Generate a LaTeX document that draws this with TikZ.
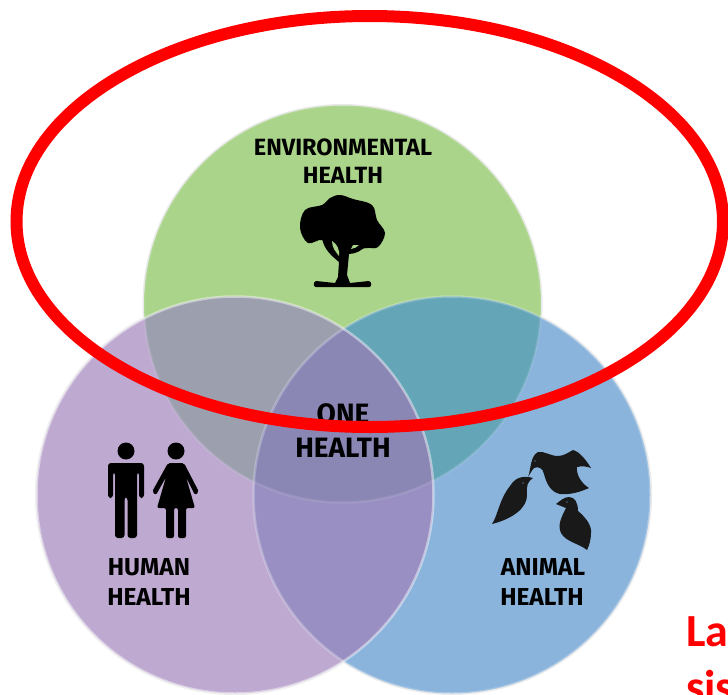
\documentclass[tikz,border=0pt]{standalone}
\usepackage{fontspec}
\setsansfont{Fira Sans}
\newfontfamily\redfont{Carlito}
\definecolor{envgreen}{HTML}{AAD48A}
\definecolor{humanpurple}{HTML}{BEA9D0}
\definecolor{animalblue}{HTML}{8AB4DC}
\definecolor{envhuman}{HTML}{9B9FAE}
\definecolor{envanimal}{HTML}{64A5B8}
\definecolor{humananimal}{HTML}{9A8FC2}
\definecolor{centermix}{HTML}{8A87B5}
\tikzset{
    toplabel/.style={font=\sffamily\bfseries\fontsize{23.5}{26}\selectfont, text=black, inner sep=0pt},
    lowlabel/.style={font=\sffamily\bfseries\fontsize{24.5}{27}\selectfont, text=black, inner sep=0pt},
    onelabel/.style={font=\sffamily\bfseries\fontsize{28}{30}\selectfont, text=black, inner sep=0pt},
    redlabel/.style={font=\redfont\bfseries\fontsize{46}{50}\selectfont, text=red, inner sep=0pt, anchor=base west},
    rim/.style={draw=white, draw opacity=0.45, line width=2.5pt},
}
\begin{document}
\begin{tikzpicture}[x=1pt, y=-1pt]
    \clip (0,0) rectangle (728,694);
    \fill[white] (0,0) rectangle (728,694);
    \def\rad{198.5}
    \def\envcircle{(342.5,304) circle[radius=\rad]}
    \def\humancircle{(235,495) circle[radius=\rad]}
    \def\animalcircle{(452,495) circle[radius=\rad]}

    \draw[color=black!9, line width=3pt] \envcircle;
    \draw[color=black!9, line width=3pt] \humancircle;
    \draw[color=black!9, line width=3pt] \animalcircle;

    \fill[color=envgreen] \envcircle;
    \fill[color=humanpurple] \humancircle;
    \fill[color=animalblue] \animalcircle;

    \begin{scope}
        \clip \envcircle;
        \fill[color=envhuman] \humancircle;
        \fill[color=envanimal] \animalcircle;
    \end{scope}
    \begin{scope}
        \clip \humancircle;
        \fill[color=humananimal] \animalcircle;
        \clip \animalcircle;
        \fill[color=centermix] \envcircle;
    \end{scope}

    \draw[rim, draw opacity=0.1] \envcircle;
    \draw[rim, draw opacity=0.25] \animalcircle;
    \draw[rim] \humancircle;

    % tree
    \fill[black] plot[smooth cycle, tension=0.6] coordinates {(340,195) (353,199) (372,205) (377,220) (385,233) (378,247) (367,248) (350,250) (335,250) (322,240) (308,243) (300,228) (305,210) (322,205) (330,198)};
    \fill[black] (322,238) .. controls (324,250) and (332,256) .. (339,262) -- (338,277) -- (335,283) -- (316,281) .. controls (313,282) and (313,287) .. (316,287) -- (369,287) .. controls (372,287) and (372,282) .. (369,281) -- (350,283) -- (347,275) -- (349,254) .. controls (356,254) and (362,250) .. (366,246) -- cycle;
    \fill[color=envgreen] (332,241) .. controls (332,248) and (336,252) .. (339,256) .. controls (340,250) and (337,244) .. (332,241) -- cycle;
    \fill[color=envgreen] (351,249) .. controls (354,249) and (357,247) .. (359,245) -- (353,245) -- cycle;

    % man
    \fill[black] (126,451) circle[radius=8.5];
    \fill[black, rounded corners=3pt] (108,498) -- (108,463) -- (144,463) -- (144,498) -- (139,498) -- (139,472) -- (137,472) -- (137,538) -- (127.5,538) -- (127.5,497) -- (124.5,497) -- (124.5,538) -- (115,538) -- (115,472) -- (113,472) -- (113,498) -- cycle;

    % woman
    \fill[black] (176,451) circle[radius=8.5];
    \fill[black, rounded corners=2pt] (168,463) -- (184,463) -- (199,492) -- (195,495) -- (186,477) -- (195,508) -- (186,508) -- (186,538) -- (178,538) -- (178,508) -- (174,508) -- (174,538) -- (166,538) -- (166,508) -- (157,508) -- (166,477) -- (156,495) -- (152,492) -- cycle;

    % birds
    \fill[black!90] (528,477) .. controls (531,470) and (530,456) .. (538,452) .. controls (545,451) and (550,456) .. (558,456) .. controls (564,456) and (569,452) .. (573,450) .. controls (580,452) and (586,460) .. (591,468) .. controls (586,466) and (581,466) .. (577,467) .. controls (576,475) and (582,484) .. (589,488) .. controls (580,492) and (570,495) .. (560,494) .. controls (550,492) and (546,482) .. (544,474) .. controls (543,468) and (538,466) .. (534,468) .. controls (532,470) and (530,474) .. (528,477) -- cycle;
    \fill[black!90] (492,524) .. controls (498,515) and (499,500) .. (510,486) .. controls (515,478) and (522,475) .. (533,478) .. controls (528,481) and (526,486) .. (527,494) .. controls (528,508) and (512,519) .. (492,524) -- cycle;
    \fill[black!90] (556,504) .. controls (560,501) and (564,497) .. (569,497) .. controls (575,497) and (578,503) .. (578,511) .. controls (585,517) and (592,525) .. (591,533) .. controls (591,540) and (589,546) .. (587,550) .. controls (578,543) and (566,542) .. (561,533) .. controls (557,525) and (562,516) .. (566,508) -- cycle;
    \fill[color=animalblue] (535,461) circle[radius=0.7];
    \fill[color=animalblue] (536,472) circle[radius=0.7];
    \fill[color=animalblue] (523,483) circle[radius=0.7];
    \fill[color=animalblue] (567,502) circle[radius=0.7];

    \node[toplabel] (envtop) at (343,147) {ENVIRONMENTAL};
    \node[toplabel] (envbottom) at (343,175) {HEALTH};
    \node[lowlabel] (humantop) at (149,567) {HUMAN};
    \node[lowlabel] (humanbottom) at (149,597) {HEALTH};
    \node[lowlabel] (animaltop) at (543,567) {ANIMAL};
    \node[lowlabel] (animalbottom) at (542,597) {HEALTH};
    \node[onelabel] (onetop) at (343,414) {ONE};
    \node[onelabel] (onebottom) at (343,448) {HEALTH};

    \draw[color=red, line width=12pt] (369.75,221.5) ellipse[x radius=353.25, y radius=205.5];

    \node[redlabel] (redtop) at (686,646) {La};
    \node[redlabel] (redbottom) at (686,702) {sis};
\end{tikzpicture}
\end{document}
